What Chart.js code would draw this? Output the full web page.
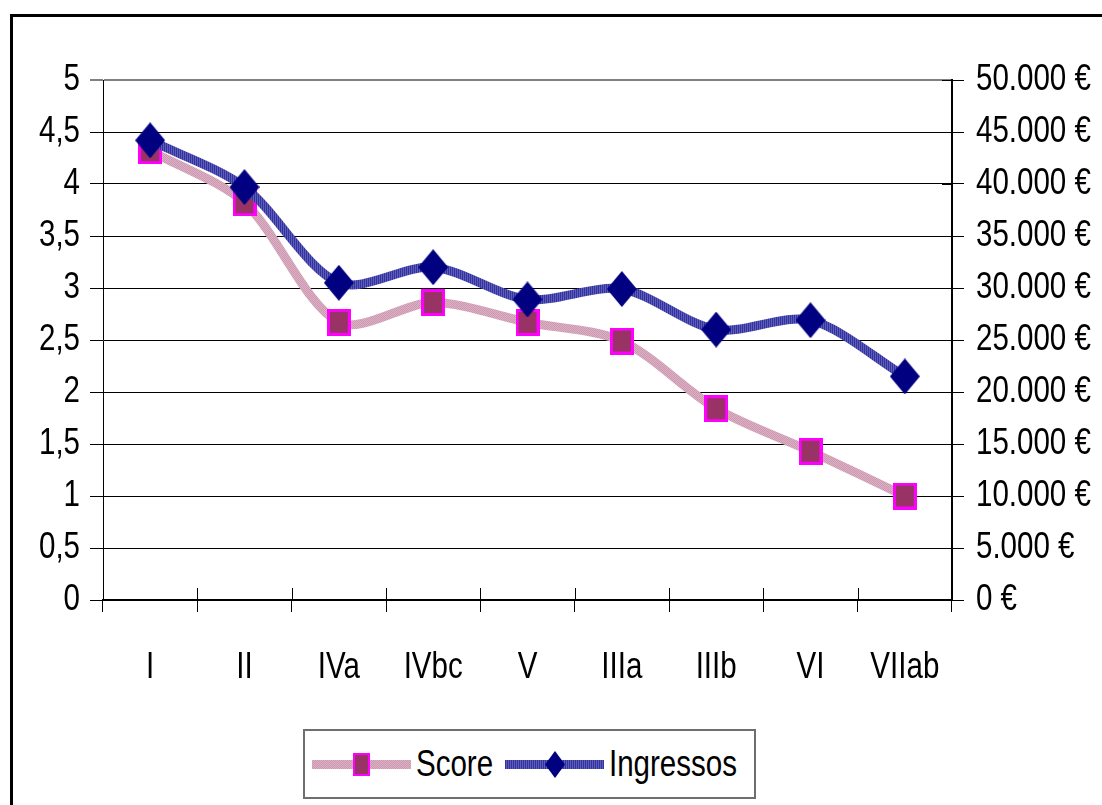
<!DOCTYPE html>
<html>
<head>
<meta charset="utf-8">
<script src="https://cdn.jsdelivr.net/npm/chart.js@4"></script>
<style>
  html, body { margin: 0; padding: 0; background: #fff; }
  #wrap { position: relative; width: 1102px; height: 805px; overflow: hidden; }
  #legend {
    position: absolute; left: 303px; top: 729px; width: 442px; height: 66px;
    border: 2px solid #6e6e6e; background: #fff;
    display: flex; align-items: center; padding-left: 7px; box-sizing: content-box;
    font-family: 'Liberation Sans', Arial, sans-serif; font-size: 36px; color: #000;
  }
  #legend .item { display: flex; align-items: center; }
  #legend canvas { margin-right: 5px; }
  #legend span { display: inline-block; transform: scaleX(0.82); transform-origin: left center; }
</style>
</head>
<body>
<div id="wrap">
  <canvas id="chart" width="1102" height="805"></canvas>
  <div id="legend"></div>
</div>
<script>
// categories + values
const categories = ['I', 'II', 'IVa', 'IVbc', 'V', 'IIIa', 'IIIb', 'VI', 'VIIab'];
const scoreValues = [4.32, 3.82, 2.67, 2.86, 2.67, 2.49, 1.84, 1.43, 1.0];
const ingressosValues = [44200, 39700, 30500, 32000, 28900, 29900, 26000, 26900, 21500];
const seriesNames = ['Score', 'Ingressos'];

const FONT = "'Liberation Sans', Arial, sans-serif";
const NARROW = 0.82; // fake Arial Narrow by squeezing Liberation Sans

// striped textures like the old excel line fills
function makePattern(c1, c2, w, h) {
  const c = document.createElement('canvas');
  c.width = w; c.height = h;
  const x = c.getContext('2d');
  x.fillStyle = c1; x.fillRect(0, 0, w, h);
  x.fillStyle = c2;
  if (h === 1) {
    x.fillRect(1, 0, 1, 1);
  } else {
    x.fillRect(1, 0, 1, 1); x.fillRect(0, 1, 1, 1);
  }
  return x.createPattern(c, 'repeat');
}

function squareMarker(w, h, b) {
  const c = document.createElement('canvas');
  c.width = w; c.height = h;
  const x = c.getContext('2d');
  x.fillStyle = '#ff00ff'; x.fillRect(0, 0, w, h);
  x.fillStyle = '#993366'; x.fillRect(b, b, w - 2 * b, h - 2 * b);
  return c;
}

function diamondMarker(w, h) {
  const c = document.createElement('canvas');
  c.width = w; c.height = h;
  const x = c.getContext('2d');
  x.fillStyle = '#000080';
  x.beginPath();
  x.moveTo(w / 2, 0); x.lineTo(w, h / 2); x.lineTo(w / 2, h); x.lineTo(0, h / 2);
  x.closePath(); x.fill();
  return c;
}

const ctx = document.getElementById('chart').getContext('2d');

// squeeze every label horizontally around its anchor point
const origFillText = ctx.fillText.bind(ctx);
ctx.fillText = function (text, x, y, maxWidth) {
  this.save();
  this.translate(x, y);
  this.scale(NARROW, 1);
  if (maxWidth === undefined) origFillText(text, 0, 0);
  else origFillText(text, 0, 0, maxWidth / NARROW);
  this.restore();
};

const pinkLine = makePattern('#cc99b0', '#dcb0c4', 2, 2);
const blueLine = makePattern('#333399', '#5c5cbf', 2, 1);
const sq = squareMarker(24, 27, 3);
const dia = diamondMarker(30, 36);

// outer frame + tick marks that cross the axis
const framePlugin = {
  id: 'frame',
  beforeDraw(chart) {
    const c = chart.ctx;
    c.save();
    c.fillStyle = '#fff';
    c.fillRect(0, 0, chart.width, chart.height);
    c.strokeStyle = '#000';
    c.lineWidth = 3;
    c.strokeRect(11.5, 15.5, 1200, 900);
    c.restore();
  },
  afterDatasetsDraw(chart) {
    const c = chart.ctx;
    const x = chart.scales.x, y1 = chart.scales.y1;
    c.save();
    c.strokeStyle = '#000';
    c.lineWidth = 1;
    const step = (x.right - x.left) / categories.length;
    for (let i = 0; i <= categories.length; i++) {
      const px = Math.round(x.left + i * step) + 0.5;
      c.beginPath(); c.moveTo(px, x.top - 12); c.lineTo(px, x.top); c.stroke();
    }
    y1.ticks.forEach(t => {
      const py = Math.round(y1.getPixelForValue(t.value)) + 0.5;
      c.beginPath(); c.moveTo(y1.left - 10, py); c.lineTo(y1.left, py); c.stroke();
    });
    c.restore();
  }
};

const chart = new Chart(ctx, {
  type: 'line',
  data: {
    labels: categories,
    datasets: [
      {
        label: seriesNames[0],
        data: scoreValues,
        yAxisID: 'y',
        borderColor: pinkLine,
        borderWidth: 9,
        tension: 0.3,
        pointStyle: sq,
        pointRadius: 12,
        order: 2
      },
      {
        label: seriesNames[1],
        data: ingressosValues,
        yAxisID: 'y1',
        borderColor: blueLine,
        borderWidth: 9,
        tension: 0.3,
        pointStyle: dia,
        pointRadius: 15,
        order: 1
      }
    ]
  },
  options: {
    responsive: false,
    animation: false,
    layout: { padding: { top: 80, left: 0, right: 0, bottom: 0 } },
    plugins: {
      legend: { display: false },
      tooltip: { enabled: false }
    },
    scales: {
      x: {
        offset: true,
        grid: { offset: true, drawOnChartArea: false, tickLength: 12, color: '#000' },
        border: { color: '#000', width: 2 },
        ticks: {
          color: '#000', padding: 34, maxRotation: 0, autoSkip: false,
          font: { family: FONT, size: 36 }
        },
        afterFit: s => { s.height = 205; }
      },
      y: {
        position: 'left',
        min: 0, max: 5,
        ticks: {
          stepSize: 0.5, color: '#000', padding: 10,
          font: { family: FONT, size: 36 },
          callback: v => String(v).replace('.', ',')
        },
        grid: {
          tickLength: 13,
          color: ctx => ctx.tick && ctx.tick.value === 5 ? '#808080' : '#000',
          lineWidth: ctx => ctx.tick && ctx.tick.value === 5 ? 2 : 1
        },
        border: { color: '#000', width: 1 },
        afterFit: s => { s.width = 103; }
      },
      y1: {
        position: 'right',
        min: 0, max: 50000,
        ticks: {
          stepSize: 5000, color: '#000', padding: 12,
          font: { family: FONT, size: 36 },
          callback: v => v.toLocaleString('de-DE') + ' €'
        },
        grid: { drawOnChartArea: false, tickLength: 12, color: '#000' },
        border: { color: '#000', width: 2 },
        afterFit: s => { s.width = 1102 - 952; }
      }
    }
  },
  plugins: [framePlugin]
});

// legend box, built from the datasets (smaller markers than on the plot)
const legendMarkers = [squareMarker(17, 23, 2), diamondMarker(20, 27)];
const legend = document.getElementById('legend');
chart.data.datasets.forEach((ds, i) => {
  const item = document.createElement('div');
  item.className = 'item';
  item.style.width = i === 0 ? '193px' : '240px';
  const sample = document.createElement('canvas');
  sample.width = 99; sample.height = 30;
  const sc = sample.getContext('2d');
  sc.fillStyle = ds.borderColor;
  sc.fillRect(0, 11, 99, 9);
  const m = legendMarkers[i];
  sc.drawImage(m, Math.round(49.5 - m.width / 2), Math.round(15.5 - m.height / 2));
  const txt = document.createElement('span');
  txt.textContent = ds.label;
  item.appendChild(sample);
  item.appendChild(txt);
  legend.appendChild(item);
});
</script>
</body>
</html>
